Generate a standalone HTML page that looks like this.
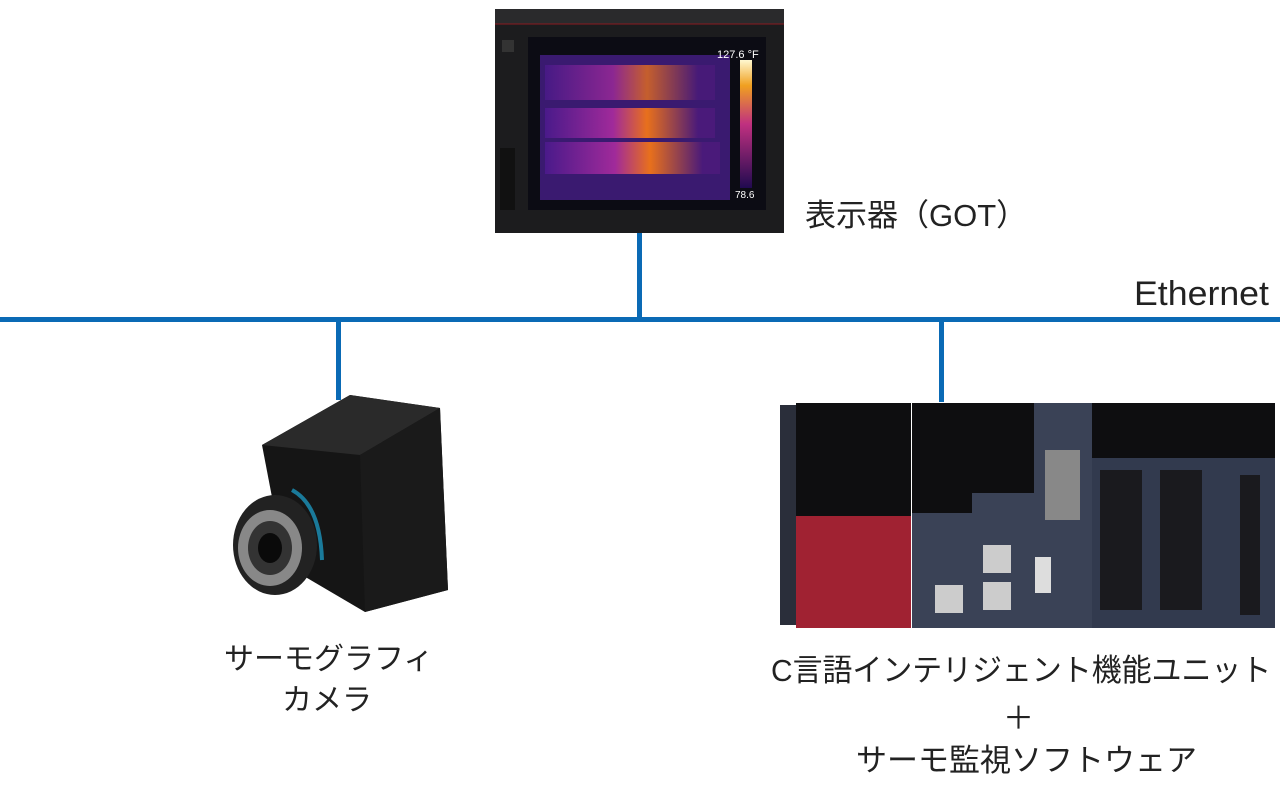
<!DOCTYPE html>
<html><head><meta charset="utf-8"><style>
body{margin:0;width:1280px;height:800px;background:#fff;position:relative;overflow:hidden;font-family:"Liberation Sans","Noto Sans CJK JP",sans-serif;color:#222}
.t{position:absolute;white-space:nowrap;font-size:31px;line-height:1}
.b{position:absolute;background:#0a6ab5}
</style></head><body>
<div class="b" style="left:0;top:317px;width:1280px;height:5px"></div>
<div class="b" style="left:637px;top:232px;width:5px;height:88px"></div>
<div class="b" style="left:336px;top:320px;width:5px;height:80px"></div>
<div class="b" style="left:939px;top:320px;width:5px;height:82px"></div>
<div class="t" style="left:1134px;top:277px;font-size:34px;transform:scaleX(1.05);transform-origin:left">Ethernet</div>
<div class="t" style="left:805px;top:200px;font-size:31px">表示器（GOT）</div>
<div class="t" style="left:224px;top:645px;font-size:30px">サーモグラフィ</div>
<div class="t" style="left:282px;top:686px;font-size:30px">カメラ</div>
<div class="t" style="left:771px;top:655px;font-size:31px;transform:scaleX(0.965);transform-origin:left">C言語インテリジェント機能ユニット</div>
<div class="t" style="left:1003px;top:703px;font-size:31px">＋</div>
<div class="t" style="left:856px;top:745px;font-size:31px">サーモ監視ソフトウェア</div>

<svg style="position:absolute;left:0;top:0" width="1280" height="800">
<defs>
<linearGradient id="th" x1="0" y1="0" x2="1" y2="0"><stop offset="0" stop-color="#4a1a8a"/><stop offset=".4" stop-color="#a02a9a"/><stop offset=".6" stop-color="#e8701c"/><stop offset=".9" stop-color="#4a1a7a"/></linearGradient>
<linearGradient id="sc" x1="0" y1="1" x2="0" y2="0"><stop offset="0" stop-color="#200a50"/><stop offset=".5" stop-color="#c03080"/><stop offset=".8" stop-color="#f0a020"/><stop offset="1" stop-color="#fff8d0"/></linearGradient>
</defs>
<rect x="495" y="9" width="289" height="224" fill="#1c1c1e"/>
<rect x="495" y="9" width="289" height="15" fill="#2a2a2c"/>
<line x1="495" y1="24" x2="784" y2="24" stroke="#8a1a20" stroke-width="1"/>
<rect x="528" y="37" width="238" height="173" fill="#0c0c14"/>
<rect x="540" y="55" width="190" height="145" fill="#3a1a70"/>
<rect x="545" y="65" width="170" height="35" fill="url(#th)" opacity=".8"/>
<rect x="545" y="108" width="170" height="30" fill="url(#th)"/>
<rect x="545" y="142" width="175" height="32" fill="url(#th)"/>
<rect x="740" y="60" width="12" height="128" fill="url(#sc)"/>
<text x="717" y="58" fill="#fff" font-size="11" font-family="Liberation Sans">127.6 °F</text>
<text x="735" y="198" fill="#fff" font-size="10" font-family="Liberation Sans">78.6</text>
<rect x="502" y="40" width="12" height="12" fill="#333"/>
<rect x="500" y="148" width="15" height="62" fill="#111"/>
<polygon points="262,445 350,395 440,408 448,590 365,612 285,565" fill="#151515"/>
<polygon points="262,445 350,395 440,408 360,455" fill="#2a2a2a"/>
<polygon points="360,455 440,408 448,590 365,612" fill="#1a1a1a"/>
<ellipse cx="275" cy="545" rx="42" ry="50" fill="#222"/>
<ellipse cx="270" cy="548" rx="32" ry="38" fill="#888"/>
<ellipse cx="270" cy="548" rx="22" ry="27" fill="#333"/>
<ellipse cx="270" cy="548" rx="12" ry="15" fill="#0a0a0a"/>
<path d="M292 490 Q320 505 322 560" stroke="#1a7a9a" stroke-width="4" fill="none"/>
<rect x="780" y="405" width="20" height="220" fill="#2a2e3a"/>
<rect x="796" y="403" width="115" height="113" fill="#0e0e10"/>
<rect x="796" y="516" width="115" height="112" fill="#a02232"/>
<rect x="912" y="403" width="60" height="110" fill="#0e0e10"/>
<rect x="912" y="513" width="60" height="115" fill="#3a4256"/>
<rect x="972" y="403" width="62" height="90" fill="#0e0e10"/>
<rect x="972" y="493" width="62" height="135" fill="#3a4256"/>
<rect x="1034" y="403" width="58" height="225" fill="#3a4256"/>
<rect x="1045" y="450" width="35" height="70" fill="#888"/>
<rect x="1092" y="403" width="60" height="55" fill="#0e0e10"/>
<rect x="1092" y="458" width="60" height="170" fill="#323a4e"/>
<rect x="1152" y="403" width="60" height="55" fill="#0e0e10"/>
<rect x="1152" y="458" width="60" height="170" fill="#323a4e"/>
<rect x="1212" y="403" width="63" height="55" fill="#0e0e10"/>
<rect x="1212" y="458" width="63" height="170" fill="#323a4e"/>
<rect x="1100" y="470" width="42" height="140" fill="#1a1a1e"/>
<rect x="1160" y="470" width="42" height="140" fill="#1a1a1e"/>
<rect x="1240" y="475" width="20" height="140" fill="#1a1a1e"/>
<rect x="983" y="545" width="28" height="28" fill="#ccc"/>
<rect x="983" y="582" width="28" height="28" fill="#ccc"/>
<rect x="935" y="585" width="28" height="28" fill="#ccc"/>
<rect x="1035" y="557" width="16" height="36" fill="#ddd"/>
</svg>
</body></html>
